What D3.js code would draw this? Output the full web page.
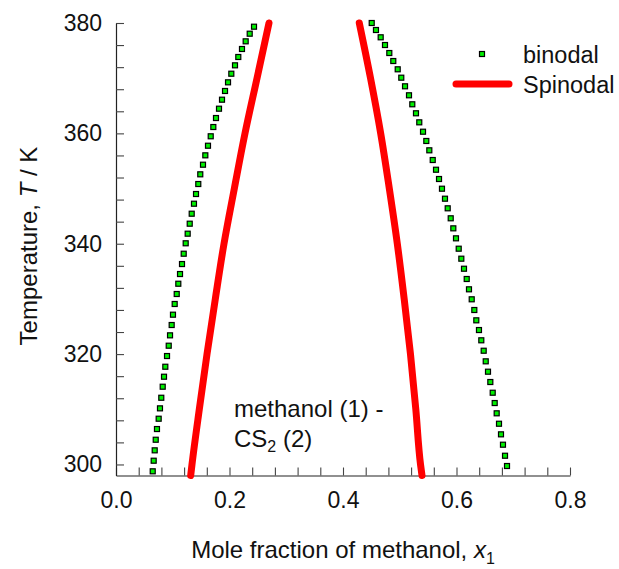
<!DOCTYPE html>
<html>
<head>
<meta charset="utf-8">
<script src="https://cdn.jsdelivr.net/npm/d3@7"></script>
<style>
  html, body { margin: 0; padding: 0; background: #fff; }
  svg { display: block; font-family: "Liberation Sans", Arial, sans-serif; }
</style>
</head>
<body>
<svg id="chart" width="619" height="569"></svg>
<script>
// ---- data ----
const binodalLeftX = [0.2432,0.2356,0.2285,0.2220,0.2155,0.2097,0.2032,0.1974,0.1921,0.1868,0.1815,0.1762,0.1715,0.1669,0.1621,0.1574,0.1533,0.1485,0.1450,0.1410,0.1374,0.1334,0.1299,0.1263,0.1228,0.1193,0.1163,0.1128,0.1098,0.1070,0.1034,0.1004,0.0981,0.0952,0.0929,0.0899,0.0869,0.0846,0.0823,0.0798,0.0775,0.0752,0.0722,0.0700,0.0682,0.0664,0.0647];
const binodalLeftT = [379.33,378.06,376.68,375.29,373.84,372.33,370.81,369.25,367.68,366.10,364.47,362.78,361.15,359.47,357.76,356.02,354.32,352.58,350.82,349.01,347.25,345.44,343.63,341.82,340.08,338.19,336.32,334.51,332.75,330.89,329.08,327.14,325.27,323.40,321.52,319.65,317.71,315.90,314.09,312.09,310.17,308.29,306.42,304.48,302.56,300.68,298.76];
const binodalRightX = [0.4506,0.4581,0.4664,0.4740,0.4816,0.4886,0.4964,0.5027,0.5093,0.5163,0.5221,0.5286,0.5344,0.5410,0.5468,0.5521,0.5581,0.5639,0.5692,0.5744,0.5797,0.5845,0.5898,0.5944,0.5991,0.6039,0.6085,0.6132,0.6180,0.6220,0.6268,0.6314,0.6349,0.6396,0.6437,0.6479,0.6515,0.6555,0.6596,0.6638,0.6673,0.6708,0.6749,0.6784,0.6819,0.6855,0.6890];
const binodalRightT = [380.00,378.73,377.41,376.01,374.56,373.11,371.61,370.09,368.53,366.90,365.27,363.64,362.00,360.30,358.62,356.93,355.17,353.41,351.73,349.97,348.16,346.42,344.61,342.79,340.98,339.10,337.29,335.47,333.61,331.74,329.93,327.99,326.12,324.36,322.50,320.61,318.69,316.81,314.94,313.00,311.13,309.27,307.38,305.46,303.58,301.58,299.72];

const spinodalT      = [380, 370, 360, 350, 340, 330, 320, 310, 300, 298];
const spinodalLeftX  = [0.2696,0.2485,0.2273,0.2085,0.1903,0.1750,0.1604,0.1468,0.1339,0.1316];
const spinodalRightX = [0.4287,0.4485,0.4664,0.4816,0.4957,0.5078,0.5189,0.5283,0.5366,0.5392];

const xTicks = d3.range(0, 0.8001, 0.04);
const yTicks = d3.range(300, 380.001, 4);
const xLabelTicks = [0, 0.2, 0.4, 0.6, 0.8];
const yLabelTicks = [300, 320, 340, 360, 380];

// ---- drawing ----
const svg = d3.select("#chart");
const x = d3.scaleLinear().domain([0, 0.8]).range([116, 570]);
const y = d3.scaleLinear().domain([298, 380]).range([475.5, 23]);

const isLab = (v, arr) => arr.some(a => Math.abs(a - v) < 1e-6);

const xAxis = d3.axisBottom(x)
  .tickValues(xTicks)
  .tickSizeInner(-8).tickSizeOuter(0).tickPadding(16)
  .tickFormat(v => isLab(v, xLabelTicks) ? d3.format(".1f")(v) : "");
const yAxis = d3.axisLeft(y)
  .tickValues(yTicks)
  .tickSizeInner(-8).tickSizeOuter(0).tickPadding(14)
  .tickFormat(v => isLab(v, yLabelTicks) ? d3.format("d")(v) : "");

const gx = svg.append("g").attr("transform", `translate(0,${y(298)})`).call(xAxis);
const gy = svg.append("g").attr("transform", `translate(${x(0)},0)`).call(yAxis);
[gx, gy].forEach(g => {
  g.select(".domain").attr("stroke", "#222").attr("stroke-width", 1.2);
  g.selectAll(".tick line").attr("stroke", "#444").attr("stroke-width", 1.1);
  g.selectAll(".tick text").attr("font-size", 23).attr("fill", "#111")
    .attr("font-family", "'Liberation Sans', Arial, sans-serif");
});

// spinodal lines
const line = d3.line().x(d => x(d[0])).y(d => y(d[1])).curve(d3.curveMonotoneY);
[spinodalLeftX, spinodalRightX].forEach(xs => {
  svg.append("path")
    .datum(xs.map((v, i) => [v, spinodalT[i]]))
    .attr("d", line)
    .attr("fill", "none").attr("stroke", "#ff0000")
    .attr("stroke-width", 7).attr("stroke-linecap", "round");
});

// binodal markers
const binodal = binodalLeftX.map((v, i) => [v, binodalLeftT[i]])
  .concat(binodalRightX.map((v, i) => [v, binodalRightT[i]]));
const ms = 5;
svg.append("g").selectAll("rect").data(binodal).join("rect")
  .attr("x", d => x(d[0]) - ms / 2).attr("y", d => y(d[1]) - ms / 2)
  .attr("width", ms).attr("height", ms)
  .attr("fill", "#00f000").attr("stroke", "#000").attr("stroke-width", 1.2);

// legend
const leg = svg.append("g");
leg.append("rect").attr("x", 482 - ms / 2).attr("y", 54 - ms / 2).attr("width", ms).attr("height", ms)
  .attr("fill", "#00f000").attr("stroke", "#000").attr("stroke-width", 1.2);
leg.append("text").attr("x", 523).attr("y", 63).attr("font-size", 23.5).attr("fill", "#111").text("binodal");
leg.append("line").attr("x1", 456).attr("x2", 509).attr("y1", 84).attr("y2", 84)
  .attr("stroke", "#ff0000").attr("stroke-width", 7).attr("stroke-linecap", "round");
leg.append("text").attr("x", 523).attr("y", 92.7).attr("font-size", 23.5).attr("fill", "#111").text("Spinodal");

// annotation
svg.append("text").attr("x", 234).attr("y", 416.7).attr("font-size", 24).attr("fill", "#111").text("methanol (1) -");
const t2 = svg.append("text").attr("x", 234).attr("y", 446.7).attr("font-size", 24).attr("fill", "#111");
t2.append("tspan").text("CS");
t2.append("tspan").attr("font-size", 16).attr("dy", 5).text("2");
t2.append("tspan").attr("dy", -5).text(" (2)");

// axis titles
const xt = svg.append("text").attr("x", 343).attr("y", 558).attr("text-anchor", "middle")
  .attr("font-size", 24).attr("fill", "#111");
xt.append("tspan").text("Mole fraction of methanol, ");
xt.append("tspan").attr("font-style", "italic").text("x");
xt.append("tspan").attr("font-size", 16).attr("dy", 6).text("1");

const yt = svg.append("text").attr("transform", "translate(37,246) rotate(-90)")
  .attr("text-anchor", "middle").attr("font-size", 24).attr("fill", "#111");
yt.append("tspan").text("Temperature, ");
yt.append("tspan").attr("font-style", "italic").text("T");
yt.append("tspan").text(" / K");
</script>
</body>
</html>
